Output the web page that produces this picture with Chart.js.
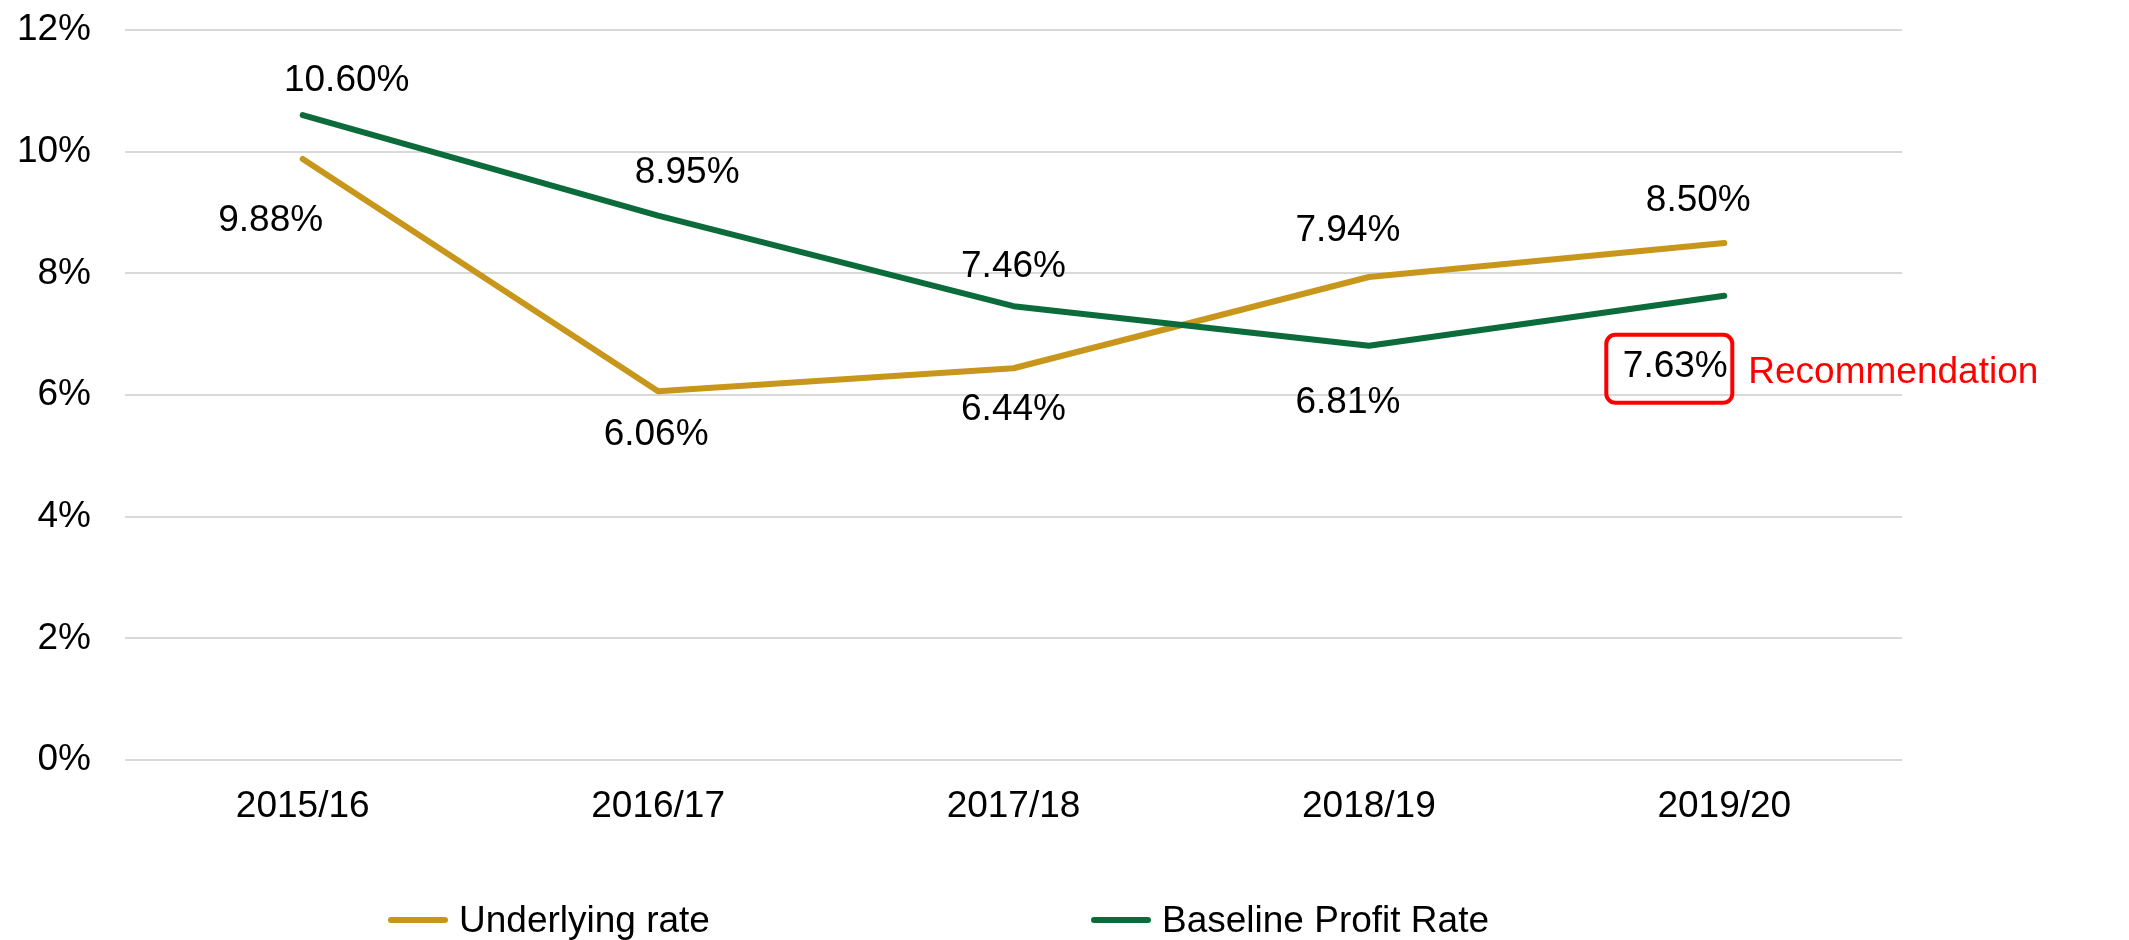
<!DOCTYPE html>
<html>
<head>
<meta charset="utf-8">
<script src="https://cdn.jsdelivr.net/npm/chart.js@4.4.1/dist/chart.umd.min.js"></script>
<style>
  html, body { margin: 0; padding: 0; background: #fff; }
  #chart { display: block; }
</style>
</head>
<body>
<canvas id="chart" width="2129" height="940"></canvas>
<script>
const years = ['2015/16', '2016/17', '2017/18', '2018/19', '2019/20'];
const underlyingRate = [9.88, 6.06, 6.44, 7.94, 8.50];
const baselineProfitRate = [10.60, 8.95, 7.46, 6.81, 7.63];
const yTicks = [0, 2, 4, 6, 8, 10, 12];
const seriesNames = ['Underlying rate', 'Baseline Profit Rate'];
const calloutText = 'Recommendation';

const GOLD = '#c8961b';
const GREEN = '#0b6b3a';
const RED = '#ff0000';
const FONT = '"Liberation Sans", Arial, sans-serif';
const FONT_SIZE = 37;

// label placement relative to each point, in px
const labelOffsets = [
    [[-32, 62], [-2, 43], [0, 42], [-21, -46], [-26, -42]],
    [[44, -34], [29, -43], [0, -39], [-21, 57], [-49, 71]]
];

const valueLabels = {
    id: 'valueLabels',
    afterDatasetsDraw(chart) {
        const ctx = chart.ctx;
        ctx.save();
        ctx.font = FONT_SIZE + 'px ' + FONT;
        ctx.textAlign = 'center';
        ctx.textBaseline = 'middle';
        chart.data.datasets.forEach((ds, di) => {
            const meta = chart.getDatasetMeta(di);
            meta.data.forEach((pt, i) => {
                const [dx, dy] = labelOffsets[di][i];
                const x = pt.x + dx, y = pt.y + dy;
                ctx.fillStyle = '#000';
                ctx.fillText(ds.data[i].toFixed(2) + '%', x, y);
                // highlighted recommendation on last baseline point
                if (di === 1 && i === ds.data.length - 1) {
                    ctx.strokeStyle = RED;
                    ctx.lineWidth = 4;
                    ctx.beginPath();
                    ctx.roundRect(x - 69, y - 32, 126, 68, 9);
                    ctx.stroke();
                    ctx.fillStyle = RED;
                    ctx.textAlign = 'left';
                    ctx.fillText(calloutText, x + 73, y + 6);
                    ctx.textAlign = 'center';
                }
            });
        });
        ctx.restore();
    }
};

const bottomLegend = {
    id: 'bottomLegend',
    afterDraw(chart) {
        const ctx = chart.ctx;
        const y = 920;
        const starts = [391, 1094];
        const colors = [GOLD, GREEN];
        ctx.save();
        ctx.font = FONT_SIZE + 'px ' + FONT;
        ctx.textBaseline = 'middle';
        ctx.textAlign = 'left';
        seriesNames.forEach((name, i) => {
            ctx.strokeStyle = colors[i];
            ctx.lineWidth = 6;
            ctx.lineCap = 'round';
            ctx.beginPath();
            ctx.moveTo(starts[i], y);
            ctx.lineTo(starts[i] + 54, y);
            ctx.stroke();
            ctx.fillStyle = '#000';
            ctx.fillText(name, starts[i] + 68, y + 2);
        });
        ctx.restore();
    }
};

new Chart(document.getElementById('chart').getContext('2d'), {
    type: 'line',
    data: {
        labels: years,
        datasets: [{
            label: seriesNames[0],
            data: underlyingRate,
            borderColor: GOLD,
            borderWidth: 6,
            order: 2
        }, {
            label: seriesNames[1],
            data: baselineProfitRate,
            borderColor: GREEN,
            borderWidth: 6,
            order: 1
        }]
    },
    options: {
        responsive: false,
        animation: false,
        layout: { padding: { top: 30, right: 227, bottom: 0, left: 0 } },
        elements: {
            point: { radius: 0, hoverRadius: 0 },
            line: { tension: 0, borderCapStyle: 'round', borderJoinStyle: 'round', fill: false }
        },
        plugins: {
            legend: { display: false },
            tooltip: { enabled: false }
        },
        scales: {
            x: {
                offset: true,
                grid: { display: false, drawTicks: false },
                border: { display: false },
                ticks: { color: '#000', font: { family: FONT, size: FONT_SIZE }, padding: 25 },
                afterFit: (scale) => { scale.height = 180; }
            },
            y: {
                min: 0,
                max: 12,
                afterBuildTicks: (scale) => { scale.ticks = yTicks.map(v => ({ value: v })); },
                grid: { color: '#d9d9d9', lineWidth: 2, drawTicks: false },
                border: { display: false },
                ticks: {
                    color: '#000',
                    font: { family: FONT, size: FONT_SIZE },
                    padding: 34,
                    callback: (v) => v + '%'
                },
                afterFit: (scale) => {
                    scale.width = 125;
                    scale.paddingTop = 0;
                    scale.paddingBottom = 0;
                }
            }
        }
    },
    plugins: [valueLabels, bottomLegend]
});
</script>
</body>
</html>
